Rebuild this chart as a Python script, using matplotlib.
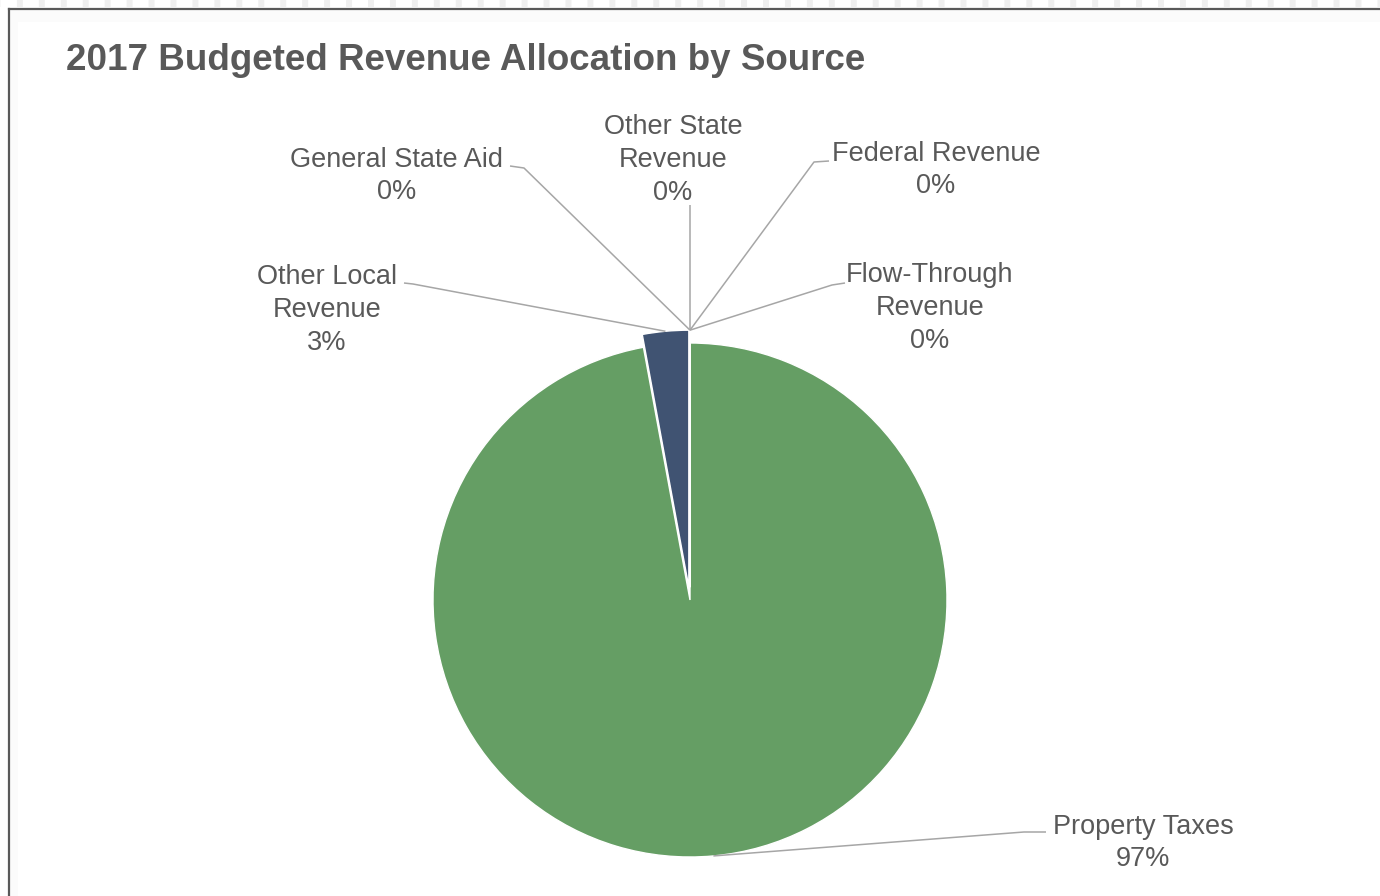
import matplotlib.pyplot as plt
from matplotlib.lines import Line2D
from matplotlib.patches import Rectangle
import numpy as np

plt.rcParams['font.family'] = ['Liberation Sans', 'DejaVu Sans']
plt.rcParams['lines.scale_dashes'] = False

# revenue shares by source (percent)
sources = ["Property Taxes", "Other Local\nRevenue", "General State Aid",
           "Other State\nRevenue", "Federal Revenue", "Flow-Through\nRevenue"]
shares = [97.1, 2.9, 0.0, 0.0, 0.0, 0.0]
colors = ["#659e64", "#405372", "#a5a5a5", "#ffc000", "#5b9bd5", "#ed7d31"]
pulled = [False, True, True, True, True, True]

W, H = 1380, 896
R = 257
TXT = "#595959"
LEAD = "#a6a6a6"
explode = [0.05 * R if p else 0 for p in pulled]

# label placement in pixels from top-left: text centre, leader end at text, elbow
label_pos = {
    "Property Taxes": ((1143, 843), (1046, 832), (1024, 832)),
    "Other Local\nRevenue": ((327, 310), (404, 283), (413, 284)),
    "General State Aid": ((397, 176), (510, 166), (524, 168)),
    "Other State\nRevenue": ((673, 160), (690, 205), (690, 206)),
    "Federal Revenue": ((936, 170), (829, 161), (814, 162)),
    "Flow-Through\nRevenue": ((930, 308), (845, 283), (832, 285)),
}


def px(p):
    return (p[0], H - p[1])


fig = plt.figure(figsize=(W / 100, H / 100), dpi=100)
ax = fig.add_axes([0, 0, 1, 1])

wedges, _ = ax.pie(shares, colors=colors, startangle=90, counterclock=False,
                   explode=explode, center=(690, H - 600), radius=R,
                   wedgeprops=dict(edgecolor="white", linewidth=1.0))
ax.set_xlim(0, W)
ax.set_ylim(0, H)
ax.set_aspect("equal")
ax.axis("off")

for w, name, val in zip(wedges, sources, shares):
    mid = np.deg2rad((w.theta1 + w.theta2) / 2)
    cx, cy = w.center
    anchor = (cx + w.r * np.cos(mid), cy + w.r * np.sin(mid))
    (tx, ty), end, elbow = label_pos[name]
    end, elbow = px(end), px(elbow)
    ax.plot([anchor[0], elbow[0], end[0]], [anchor[1], elbow[1], end[1]],
            color=LEAD, lw=1.1, solid_capstyle="butt")
    ax.text(tx, H - ty, f"{name}\n{val:.0f}%", ha="center", va="center",
            multialignment="center", fontsize=19.5, color=TXT, linespacing=1.33)

fig.text(66 / W, 1 - 60 / H, "2017 Budgeted Revenue Allocation by Source",
         ha="left", va="center", fontsize=26.5, fontweight="bold", color=TXT)

# chart frame: faint inner shade, dark top/left border, dashed strip above
fig.add_artist(Rectangle((10 / W, 1 - 22 / H), 1, 12 / H,
                         transform=fig.transFigure, facecolor="#fbfbfb",
                         edgecolor="none", zorder=0))
fig.add_artist(Rectangle((10 / W, 0), 8 / W, 1 - 10 / H,
                         transform=fig.transFigure, facecolor="#fbfbfb",
                         edgecolor="none", zorder=0))
fig.add_artist(Line2D([9 / W, 9 / W], [0, 1 - 9 / H], color="#595959", lw=1.6))
fig.add_artist(Line2D([9 / W, 1], [1 - 9 / H, 1 - 9 / H], color="#595959", lw=1.6))
fig.add_artist(Line2D([0, 1], [1 - 3.5 / H, 1 - 3.5 / H], color="#efefef", lw=5,
                      linestyle=(4, (4.3, 11.5))))

fig.savefig("out.png", dpi=100, facecolor="white")
